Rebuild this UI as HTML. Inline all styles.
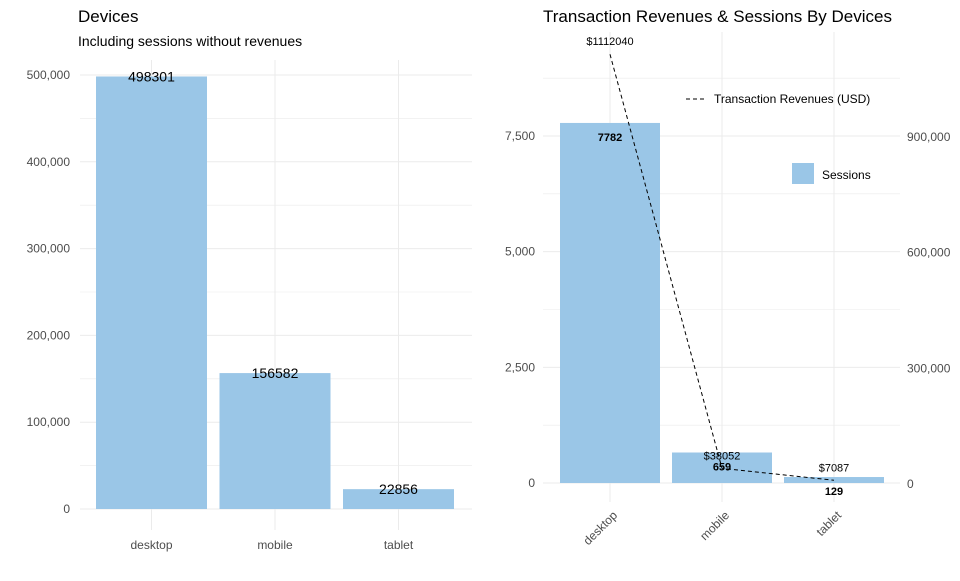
<!DOCTYPE html>
<html><head><meta charset="utf-8"><style>
body{margin:0;background:#fff;font-family:"Liberation Sans",Arial,sans-serif}
svg text{font-family:"Liberation Sans",Arial,sans-serif}
</style></head><body>
<svg id="c" width="960" height="576" xmlns="http://www.w3.org/2000/svg">
<text x="78" y="22" font-size="17" fill="#000">Devices</text>
<text x="78" y="46" font-size="14" fill="#000">Including sessions without revenues</text>
<text x="543" y="22" font-size="17" fill="#000">Transaction Revenues &amp; Sessions By Devices</text>
<g id="left"></g><g id="right"></g>
</svg>
<script>
const categories=["desktop","mobile","tablet"];
const allSessions=[498301,156582,22856];
const leftTicks=[0,100000,200000,300000,400000,500000];
const revSessions=[7782,659,129];
const revenues=[1112040,38052,7087];
const sessTicks=[0,2500,5000,7500];
const revTicks=[0,300000,600000,900000];
const NS="http://www.w3.org/2000/svg";
function mk(p,t,a,txt){const e=document.createElementNS(NS,t);for(const k in a)e.setAttribute(k,a[k]);if(txt!==undefined)e.textContent=txt;p.appendChild(e);return e;}
const fmt=v=>v.toLocaleString("en-US");
const grid="#ebebeb",bar="#9ac6e7";
// Left chart
const L=document.getElementById("left");
const lx0=80,lx1=472,ly=v=>509-v/100000*86.8;
const lbw=111;
const lxc=i=>151.5+i*123.5;
for(let t=0;t<leftTicks.length;t++){const y=ly(leftTicks[t]);
const g=mk(L,"line",{x1:lx0,x2:lx1,y1:y,y2:y,stroke:grid});

if(t<leftTicks.length-1){const m=ly((leftTicks[t]+leftTicks[t+1])/2);const g2=mk(L,"line",{x1:lx0,x2:lx1,y1:m,y2:m,stroke:grid,"stroke-width":0.6});}
const tl=mk(L,"text",{x:70,y:y+4,"text-anchor":"end","font-size":12,fill:"#4d4d4d"},fmt(leftTicks[t]));
}
categories.forEach((c,i)=>{const xc=lxc(i);
const gv=mk(L,"line",{x1:xc,x2:xc,y1:60,y2:530,stroke:grid});});
categories.forEach((c,i)=>{const xc=lxc(i);
const r=mk(L,"rect",{x:xc-lbw/2,y:ly(allSessions[i]),width:lbw,height:ly(0)-ly(allSessions[i]),fill:bar});

const t=mk(L,"text",{x:xc,y:ly(allSessions[i])+5,"text-anchor":"middle","font-size":14,fill:"#000"},allSessions[i]);

const xl=mk(L,"text",{x:xc,y:549,"text-anchor":"middle","font-size":12,fill:"#4d4d4d"},c);
});
// Right chart
const R=document.getElementById("right");
const rx0=543,rx1=900,ry=v=>483-v/7500*347,rry=v=>483-v/900000*347;
const rxc=i=>610+i*112,rbw=100;
for(let t=0;t<sessTicks.length;t++){const y=ry(sessTicks[t]);
const g=mk(R,"line",{x1:rx0,x2:rx1,y1:y,y2:y,stroke:grid});
const m=ry(sessTicks[t]+1250);const g2=mk(R,"line",{x1:rx0,x2:rx1,y1:m,y2:m,stroke:grid,"stroke-width":0.6});
const tl=mk(R,"text",{x:535,y:y+4,"text-anchor":"end","font-size":12,fill:"#4d4d4d"},fmt(sessTicks[t]));
}
revTicks.forEach(v=>{const tl=mk(R,"text",{x:907,y:rry(v)+5,"font-size":12,fill:"#4d4d4d"},fmt(v));
});
categories.forEach((c,i)=>{const xc=rxc(i);const gv=mk(R,"line",{x1:xc,x2:xc,y1:32,y2:502,stroke:grid});});
categories.forEach((c,i)=>{const xc=rxc(i);
const r=mk(R,"rect",{x:xc-rbw/2,y:ry(revSessions[i]),width:rbw,height:ry(0)-ry(revSessions[i]),fill:bar});

const t=mk(R,"text",{x:xc,y:ry(revSessions[i])+18,"text-anchor":"middle","font-size":11,"font-weight":"bold",fill:"#000"},revSessions[i]);

const xl=mk(R,"text",{x:0,y:0,"text-anchor":"end","font-size":12,fill:"#4d4d4d",transform:`translate(${xc+8},${516}) rotate(-45)`},c);
});
const pts=revenues.map((v,i)=>rxc(i)+","+rry(v)).join(" ");
const pl=mk(R,"polyline",{points:pts,fill:"none",stroke:"#000","stroke-width":1,"stroke-dasharray":"4,3"});

revenues.forEach((v,i)=>{const t=mk(R,"text",{x:rxc(i),y:rry(v)-9,"text-anchor":"middle","font-size":11,fill:"#000"},"$"+v);
});
const lg=mk(R,"line",{x1:686,x2:704,y1:99,y2:99,stroke:"#000","stroke-dasharray":"4,3"});
const lt=mk(R,"text",{x:714,y:103,"font-size":12,fill:"#000"},"Transaction Revenues (USD)");
const ls=mk(R,"rect",{x:792,y:163,width:22,height:21,fill:bar});
const lst=mk(R,"text",{x:822,y:179,"font-size":12,fill:"#000"},"Sessions");
</script>
</body></html>
